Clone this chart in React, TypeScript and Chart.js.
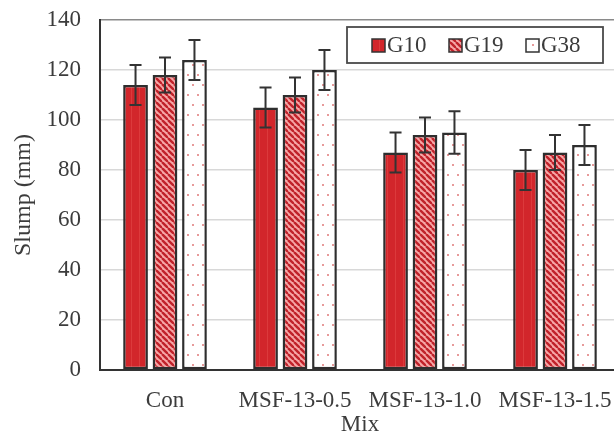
import React, { useEffect, useRef } from "react";
import { Chart, registerables } from "chart.js";

Chart.register(...registerables);

const categories = ["Con", "MSF-13-0.5", "MSF-13-1.0", "MSF-13-1.5"];
const seriesNames = ["G10", "G19", "G38"];
const g10 = [114, 105, 87, 80];
const g19 = [118, 110, 94, 87];
const g38 = [124, 120, 95, 90];
const g10Err = [8, 8, 8, 8];
const g19Err = [7, 7, 7, 7];
const g38Err = [8, 8, 8.5, 8];
const yTicks = [0, 20, 40, 60, 80, 100, 120, 140];

const FONT = "'Liberation Serif', 'Times New Roman', serif";
const TEXT = "#3c3c3c";

function makeSolid(): CanvasPattern | string {
  const c = document.createElement("canvas");
  c.width = 8; c.height = 8;
  const x = c.getContext("2d")!;
  x.fillStyle = "#d2262b";
  x.fillRect(0, 0, 8, 8);
  x.fillStyle = "#dc3a3c";
  x.fillRect(3, 0, 1, 8);
  return x.createPattern(c, "repeat") || "#d2262b";
}

function makeStripes(): CanvasPattern | string {
  const s = 6;
  const c = document.createElement("canvas");
  c.width = s; c.height = s;
  const x = c.getContext("2d")!;
  x.fillStyle = "#f6a6a6";
  x.fillRect(0, 0, s, s);
  x.strokeStyle = "#c0222a";
  x.lineWidth = 2.4;
  for (const o of [-s, 0, s]) {
    x.beginPath();
    x.moveTo(o, 0);
    x.lineTo(o + s, s);
    x.stroke();
  }
  return x.createPattern(c, "repeat") || "#e06060";
}

function makeDots(): CanvasPattern | string {
  const c = document.createElement("canvas");
  c.width = 10; c.height = 20;
  const x = c.getContext("2d")!;
  x.fillStyle = "#ffffff";
  x.fillRect(0, 0, 10, 20);
  x.fillStyle = "#e79a9a";
  x.fillRect(2, 4, 2, 2);
  x.fillRect(7, 14, 2, 2);
  return x.createPattern(c, "repeat") || "#ffffff";
}

const errors = [g10Err, g19Err, g38Err];

const errorBarPlugin = {
  id: "errorBars",
  afterDatasetsDraw(chart: any) {
    const ctx = chart.ctx;
    const y = chart.scales.y;
    ctx.save();
    ctx.strokeStyle = "#333333";
    ctx.lineWidth = 2;
    chart.data.datasets.forEach((ds: any, di: number) => {
      const meta = chart.getDatasetMeta(di);
      meta.data.forEach((bar: any, i: number) => {
        const v = ds.data[i];
        const e = errors[di][i];
        const top = y.getPixelForValue(v + e);
        const bot = y.getPixelForValue(v - e);
        const cx = bar.x;
        ctx.beginPath();
        ctx.moveTo(cx, top);
        ctx.lineTo(cx, bot);
        ctx.moveTo(cx - 6, top);
        ctx.lineTo(cx + 6, top);
        ctx.moveTo(cx - 6, bot);
        ctx.lineTo(cx + 6, bot);
        ctx.stroke();
      });
    });
    ctx.restore();
  },
};

const legendPlugin = {
  id: "boxLegend",
  afterDraw(chart: any) {
    const ctx = chart.ctx;
    ctx.save();
    const bx = 347, by = 27, bw = 256, bh = 36;
    ctx.fillStyle = "#ffffff";
    ctx.fillRect(bx, by, bw, bh);
    ctx.strokeStyle = "#4a4a4a";
    ctx.lineWidth = 1.8;
    ctx.strokeRect(bx, by, bw, bh);
    ctx.font = `23px ${FONT}`;
    ctx.textBaseline = "middle";
    ctx.textAlign = "left";
    const starts = [372, 449, 526];
    chart.data.datasets.forEach((ds: any, i: number) => {
      const sx = starts[i];
      const cy = by + bh / 2;
      ctx.fillStyle = ds.backgroundColor;
      ctx.fillRect(sx, cy - 6, 13, 13);
      ctx.strokeStyle = "#333";
      ctx.lineWidth = 1.5;
      ctx.strokeRect(sx, cy - 6, 13, 13);
      ctx.fillStyle = TEXT;
      ctx.fillText(ds.label, sx + 15, cy + 1);
    });
    ctx.restore();
  },
};

export default function App() {
  const ref = useRef<HTMLCanvasElement | null>(null);
  useEffect(() => {
    if (!ref.current) return;
    const fills = [makeSolid(), makeStripes(), makeDots()];
    const values = [g10, g19, g38];
    const chart = new Chart(ref.current, {
      type: "bar",
      data: {
        labels: categories,
        datasets: seriesNames.map((n, i) => ({
          label: n,
          data: values[i],
          backgroundColor: fills[i] as any,
          borderColor: "#2e2e2e",
          borderWidth: 2.5,
          borderSkipped: false,
          categoryPercentage: 0.68,
          barPercentage: 0.84,
        })),
      },
      options: {
        responsive: false,
        animation: false,
        layout: { padding: { top: 20, right: 0, left: 0, bottom: 0 } },
        plugins: {
          legend: { display: false },
          tooltip: { enabled: false },
        },
        scales: {
          x: {
            grid: { display: false, drawTicks: false },
            border: { color: "#333", width: 2 },
            ticks: {
              color: TEXT,
              font: { family: FONT, size: 23 },
              padding: 17,
              maxRotation: 0,
              autoSkip: false,
            },
            title: {
              display: true,
              text: "Mix",
              color: TEXT,
              font: { family: FONT, size: 23, lineHeight: 1 },
              padding: { top: 0, bottom: 0 },
            },
            afterFit(scale: any) {
              scale.height = 66;
              scale.paddingLeft = 0;
              scale.paddingRight = 0;
            },
          },
          y: {
            min: 0,
            max: 140,
            afterBuildTicks(scale: any) {
              scale.ticks = yTicks.map((v) => ({ value: v }));
            },
            grid: {
              drawTicks: false,
              color: (c: any) => (c.tick && c.tick.value === 140 ? "#8a8a8a" : "#d8d8d8"),
              lineWidth: 1.5,
            },
            border: { color: "#333", width: 2 },
            ticks: {
              color: TEXT,
              font: { family: FONT, size: 23 },
              padding: 19,
            },
            title: {
              display: true,
              text: "Slump (mm)",
              color: TEXT,
              font: { family: FONT, size: 24, lineHeight: 1 },
              padding: { top: 12, bottom: 0 },
            },
            afterFit(scale: any) {
              scale.width = 100;
              scale.paddingTop = 0;
              scale.paddingBottom = 0;
            },
          },
        },
      },
      plugins: [errorBarPlugin, legendPlugin],
    });
    return () => chart.destroy();
  }, []);
  return (
    <div
      style={{
        position: "fixed",
        left: 0,
        top: 0,
        width: 614,
        height: 436,
        overflow: "hidden",
        background: "#fff",
      }}
    >
      <canvas ref={ref} width={620} height={436} style={{ display: "block", width: 620, height: 436 }} />
    </div>
  );
}
